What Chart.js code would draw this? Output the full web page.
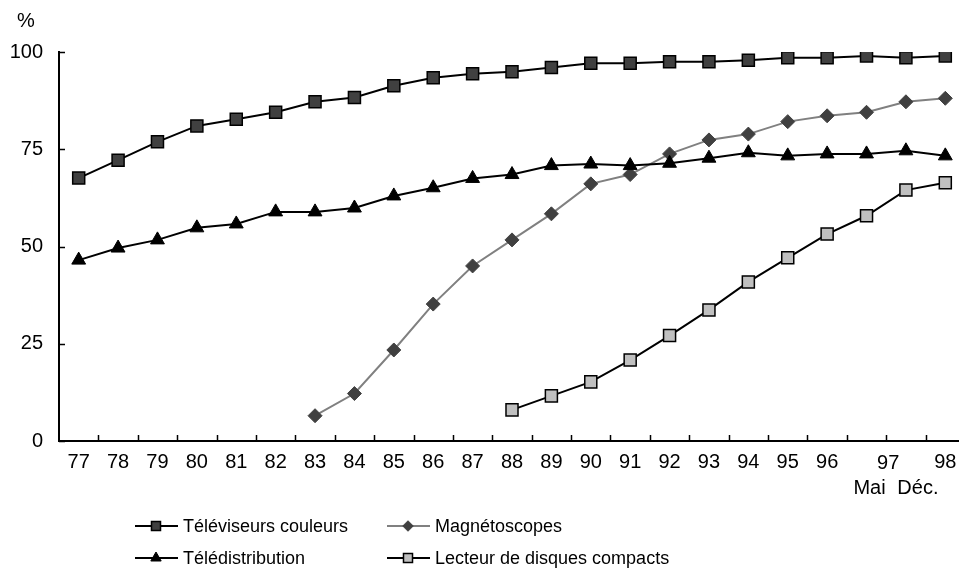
<!DOCTYPE html>
<html>
<head>
<meta charset="utf-8">
<script src="https://cdn.jsdelivr.net/npm/chart.js@4.4.1/dist/chart.umd.min.js"></script>
<style>
  body { margin: 0; overflow: hidden; background: #fff; }
  #wrap { width: 975px; height: 573px; }
</style>
</head>
<body>
<div id="wrap"><canvas id="equipChart" width="975" height="573"></canvas></div>
<script>
// categories (years, 1997 counted twice: mai / décembre)
var annees = ["77", "78", "79", "80", "81", "82", "83", "84", "85", "86", "87", "88",
  "89", "90", "91", "92", "93", "94", "95", "96", "97 Mai", "97 Déc.", "98"];
var yTicks = [0, 25, 50, 75, 100];

// series values (%)
var televiseurs = [67.6, 72.2, 76.9, 81.0, 82.7, 84.5, 87.2, 88.3, 91.3, 93.4, 94.4, 94.9,
  96.0, 97.1, 97.1, 97.5, 97.5, 97.9, 98.5, 98.5, 99.0, 98.5, 99.0];
var teledistribution = [46.5, 49.6, 51.7, 54.8, 55.8, 58.9, 58.9, 59.9, 63.0, 65.1, 67.5, 68.5,
  70.8, 71.2, 70.8, 71.4, 72.7, 74.1, 73.3, 73.8, 73.8, 74.6, 73.3];
var magnetoscopes = [null, null, null, null, null, null, 6.5, 12.2, 23.4, 35.2, 45.0, 51.7,
  58.4, 66.1, 68.5, 73.8, 77.4, 78.9, 82.1, 83.6, 84.5, 87.2, 88.1];
var lecteurCD = [null, null, null, null, null, null, null, null, null, null, null, 8.0,
  11.6, 15.2, 20.8, 27.1, 33.7, 40.9, 47.1, 53.2, 57.9, 64.5, 66.4];

var police = "'Liberation Sans', Arial, sans-serif";

// Dessine les petits traits vers l'interieur, le "%", le "97 Mai Déc." et la legende
const decorPlugin = {
  id: "decor",
  afterDraw(chart) {
    const ctx = chart.ctx;
    const xs = chart.scales.x;
    const ys = chart.scales.y;
    const area = chart.chartArea;
    ctx.save();
    ctx.strokeStyle = "#000";
    ctx.lineWidth = 1.5;
    ctx.beginPath();
    ys.ticks.forEach((t, i) => {
      const py = Math.round(ys.getPixelForTick(i)) + 0.5;
      ctx.moveTo(area.left, py);
      ctx.lineTo(area.left + 6, py);
    });
    const demi = (xs.getPixelForValue(1) - xs.getPixelForValue(0)) / 2;
    for (let k = 0; k < annees.length; k++) {
      const px = Math.round(xs.getPixelForValue(k) + demi) + 0.5;
      ctx.moveTo(px, area.bottom);
      ctx.lineTo(px, area.bottom - 6);
    }
    ctx.stroke();

    ctx.fillStyle = "#000";
    ctx.font = "20px " + police;
    ctx.textAlign = "center";
    ctx.textBaseline = "middle";
    ctx.fillText("%", 26, 21);
    const xMai = xs.getPixelForValue(20);
    const xDec = xs.getPixelForValue(21);
    ctx.fillText("97", (xMai + xDec) / 2 + 2, 463);
    ctx.fillText("Mai", xMai + 3, 488);
    ctx.fillText("Déc.", xDec + 12, 488);

    // legende
    const items = [
      { ds: 0, x: 135, y: 526 },
      { ds: 2, x: 387, y: 526 },
      { ds: 1, x: 135, y: 558 },
      { ds: 3, x: 387, y: 558 },
    ];
    ctx.font = "18px " + police;
    ctx.textAlign = "left";
    items.forEach((it) => {
      const ds = chart.data.datasets[it.ds];
      ctx.strokeStyle = ds.borderColor;
      ctx.lineWidth = ds.borderWidth;
      ctx.beginPath();
      ctx.moveTo(it.x, it.y);
      ctx.lineTo(it.x + 43, it.y);
      ctx.stroke();
      ctx.fillStyle = ds.pointBackgroundColor;
      ctx.strokeStyle = ds.pointBorderColor;
      ctx.lineWidth = ds.pointBorderWidth;
      Chart.helpers.drawPoint(ctx, {
        pointStyle: ds.pointStyle,
        radius: ds.pointRadius * 0.75,
        rotation: 0,
        borderWidth: ds.pointBorderWidth,
      }, it.x + 21, it.y);
      ctx.fillStyle = "#000";
      ctx.fillText(ds.label, it.x + 48, it.y + 1);
    });
    ctx.restore();
  },
};

new Chart(document.getElementById("equipChart"), {
  type: "line",
  data: {
    labels: annees,
    datasets: [
      {
        label: "Téléviseurs couleurs",
        data: televiseurs,
        borderColor: "#000",
        borderWidth: 2,
        pointStyle: "rect",
        pointRadius: 8.5,
        pointBackgroundColor: "#404040",
        pointBorderColor: "#000",
        pointBorderWidth: 1.5,
      },
      {
        label: "Télédistribution",
        data: teledistribution,
        borderColor: "#000",
        borderWidth: 2,
        pointStyle: "triangle",
        pointRadius: 8,
        pointBackgroundColor: "#000",
        pointBorderColor: "#000",
        pointBorderWidth: 1,
      },
      {
        label: "Magnétoscopes",
        data: magnetoscopes,
        borderColor: "#808080",
        borderWidth: 2,
        pointStyle: "rectRot",
        pointRadius: 7,
        pointBackgroundColor: "#404040",
        pointBorderColor: "#404040",
        pointBorderWidth: 1,
      },
      {
        label: "Lecteur de disques compacts",
        data: lecteurCD,
        borderColor: "#000",
        borderWidth: 2,
        pointStyle: "rect",
        pointRadius: 8.5,
        pointBackgroundColor: "#c0c0c0",
        pointBorderColor: "#000",
        pointBorderWidth: 1.5,
      },
    ],
  },
  options: {
    responsive: false,
    animation: false,
    layout: { padding: { left: 0, top: 52, right: 9, bottom: 0 } },
    plugins: { legend: { display: false }, tooltip: { enabled: false } },
    elements: { line: { tension: 0 } },
    scales: {
      x: {
        offset: true,
        grid: { display: false, drawTicks: false, offset: true },
        border: { display: true, color: "#000", width: 2 },
        ticks: {
          color: "#000",
          font: { family: police, size: 20 },
          padding: 9,
          maxRotation: 0,
          autoSkip: false,
          // 97 Mai / 97 Déc. sont ecrits par le plugin
          callback: function (val, i) { return (i === 20 || i === 21) ? "" : this.getLabelForValue(val); },
        },
        afterFit: (s) => { s.height = 132; },
      },
      y: {
        min: 0,
        max: 100,
        afterBuildTicks: (s) => { s.ticks = yTicks.map((v) => ({ value: v })); },
        grid: { display: false, drawTicks: false },
        border: { display: true, color: "#000", width: 2 },
        ticks: { color: "#000", font: { family: police, size: 20 }, padding: 16 },
        afterFit: (s) => { s.width = 59; },
      },
    },
  },
  plugins: [decorPlugin],
});
</script>
</body>
</html>
